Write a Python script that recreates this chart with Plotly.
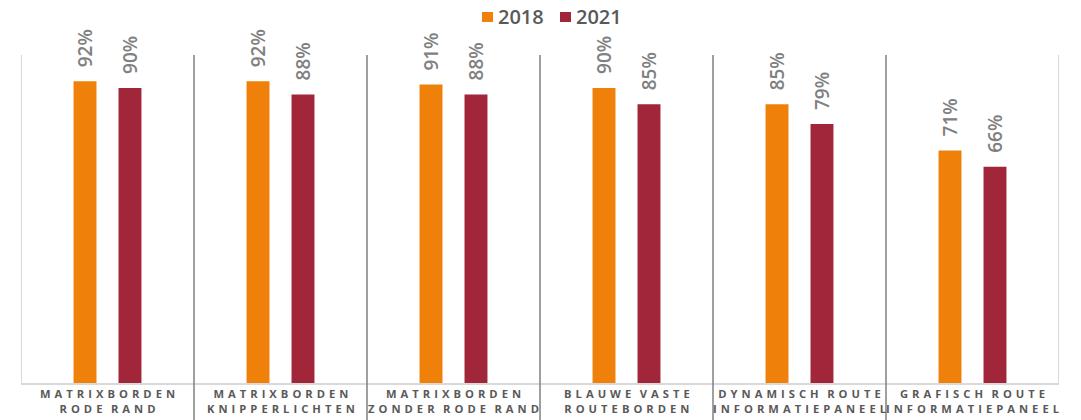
import plotly.graph_objects as go

categories = ["MATRIXBORDEN\nRODE RAND", "MATRIXBORDEN\nKNIPPERLICHTEN", "MATRIXBORDEN\nZONDER RODE RAND",
              "BLAUWE VASTE\nROUTEBORDEN", "DYNAMISCH ROUTE\nINFORMATIEPANEEL", "GRAFISCH ROUTE\nINFORMATIEPANEEL"]
series_names = ["2018", "2021"]
values_2018 = [92, 92, 91, 90, 85, 71]
values_2021 = [90, 88, 88, 85, 79, 66]
colors = ["#EF800A", "#A22639"]

def spaced(s):
    lines = []
    for line in s.split("\n"):
        words = line.split(" ")
        lines.append(" \u2002".join(" \u200A".join(list(w)) for w in words))
    return "<br>".join(lines)

x = list(range(len(categories)))
fig = go.Figure()
for name, vals, col in zip(series_names, [values_2018, values_2021], colors):
    fig.add_trace(go.Bar(x=x, y=vals, name=name, marker=dict(color=col, line=dict(width=0)), showlegend=False))

fig.update_layout(
    width=1081, height=420,
    margin=dict(l=21, r=22, t=55, b=36, autoexpand=False),
    plot_bgcolor="white", paper_bgcolor="white",
    barmode="group", bargap=0.48, bargroupgap=0.49,
    font=dict(family="Open Sans", color="#595959"),
    showlegend=False,
    xaxis=dict(range=[-0.5, len(categories) - 0.5], showticklabels=False, showgrid=False, zeroline=False,
               showline=False, ticks="", automargin=False),
    yaxis=dict(range=[0, 100], showticklabels=False, showgrid=False, zeroline=False, showline=False, ticks="",
               automargin=False),
)

# manual legend
leg_x = [482, 560]
for name, col, lx in zip(series_names, colors, leg_x):
    fig.add_shape(type="rect", xref="paper", yref="paper",
                  x0=(lx - 21) / 1038, x1=(lx + 11 - 21) / 1038,
                  y0=(384 - 22) / 329, y1=(384 - 12) / 329,
                  line=dict(width=0), fillcolor=col)
    fig.add_annotation(xref="paper", yref="paper", x=(lx + 14 - 21) / 1038, y=(384 - 17) / 329,
                       text=name, showarrow=False, xanchor="left", yanchor="middle",
                       font=dict(size=20, color="#595959", weight=600))

off = 0.13
for i in x:
    for vals, d in [(values_2018, -off), (values_2021, off)]:
        fig.add_annotation(x=i + d, y=vals[i], text=f"{vals[i]}%", textangle=-90, showarrow=False,
                           xanchor="center", yanchor="bottom", yshift=12,
                           font=dict(size=19, color="#808080", weight=600))
    fig.add_annotation(x=i, y=0, yref="paper", text=spaced(categories[i]), showarrow=False,
                       yanchor="top", yshift=-1, borderpad=0,
                       font=dict(size=11.2, color="#595959", weight="bold"))

# frame lines
fig.add_shape(type="line", xref="x", yref="paper", x0=-0.5, x1=len(categories) - 0.5, y0=0, y1=0,
              line=dict(color="#D9D9D9", width=2))
fig.add_shape(type="line", xref="x", yref="paper", x0=-0.5, x1=-0.5, y0=0, y1=1,
              line=dict(color="#D9D9D9", width=2))
fig.add_shape(type="line", xref="x", yref="paper", x0=len(categories) - 0.5, x1=len(categories) - 0.5, y0=0, y1=1,
              line=dict(color="#D9D9D9", width=2))
for i in range(1, len(categories)):
    fig.add_shape(type="line", xref="x", yref="paper", x0=i - 0.5, x1=i - 0.5, y0=-0.12, y1=1,
                  line=dict(color="#808080", width=1.5))

fig.write_html("out.html", config={"displayModeBar": False},
               post_script="document.body.style.margin='0';document.body.style.overflow='hidden';")
